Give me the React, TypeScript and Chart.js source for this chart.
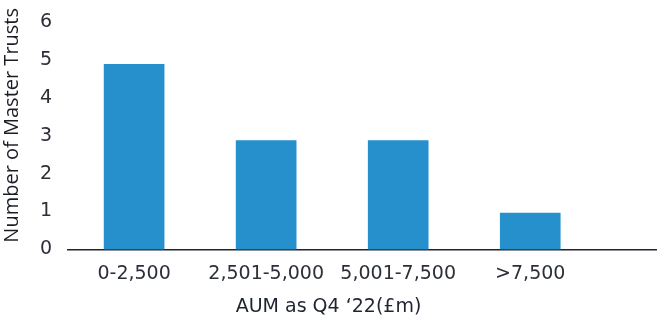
import React, { useEffect, useRef } from "react";
import { Chart, registerables } from "chart.js";

Chart.register(...registerables);

const categories = ["0-2,500", "2,501-5,000", "5,001-7,500", ">7,500"];
const trustCounts = [4.88, 2.87, 2.87, 0.96];
const yTicks = [0, 1, 2, 3, 4, 5, 6];
const xTitle = "AUM as Q4 \u201822(\u00a3m)";
const yTitle = "    Number of Master Trusts";

export default function App() {
  const ref = useRef<HTMLCanvasElement | null>(null);
  useEffect(() => {
    document.body.style.margin = "0";
    const ctx = ref.current!;
    const chart = new Chart(ctx, {
      type: "bar",
      data: {
        datasets: [
          {
            data: trustCounts.map((v, i) => ({ x: i, y: v })),
            backgroundColor: "#2690cd",
            barThickness: 60,
          },
        ],
      },
      options: {
        animation: false,
        responsive: true,
        maintainAspectRatio: false,
        layout: { padding: { top: 22, right: 0, left: 0, bottom: 0 } },
        plugins: {
          legend: { display: false },
          tooltip: { enabled: false },
          title: {
            display: true,
            position: "bottom",
            text: xTitle,
            color: "#1e2430",
            font: { family: "DejaVu Sans", size: 19, weight: "normal" },
            padding: { top: -3, bottom: -2 },
          },
        },
        scales: {
          x: {
            type: "linear",
            offset: false,
            min: -0.5,
            max: 3.96,
            grid: { display: false, drawTicks: false },
            border: { display: true, color: "#1e2430", width: 1.5 },
            afterBuildTicks: (s: any) => {
              s.ticks = categories.map((_, i) => ({ value: i }));
            },
            ticks: {
              autoSkip: false,
              maxRotation: 0,
              padding: 13,
              color: "#2a2f38",
              font: { family: "DejaVu Sans", size: 19 },
              callback: (v: any) => {
                const n = Number(v);
                return Number.isInteger(n) && n >= 0 && n < categories.length ? categories[n] : "";
              },
            },
          },
          y: {
            min: 0,
            max: 6,
            grid: { display: false, drawTicks: false },
            border: { display: false },
            afterBuildTicks: (s: any) => {
              s.ticks = yTicks.map((v) => ({ value: v }));
            },
            afterFit: (s: any) => {
              s.paddingTop = 0;
              s.paddingBottom = 0;
            },
            ticks: {
              padding: 16,
              color: "#2a2f38",
              font: { family: "DejaVu Sans", size: 19 },
            },
            title: {
              display: true,
              text: yTitle,
              color: "#1a1d24",
              font: { family: "Open Sans", size: 20 },
              padding: { top: 0, bottom: 0 },
            },
          },
        },
      },
    });
    return () => chart.destroy();
  }, []);
  return (
    <div style={{ width: 657, height: 316, position: "relative" }}>
      <canvas ref={ref} />
    </div>
  );
}
